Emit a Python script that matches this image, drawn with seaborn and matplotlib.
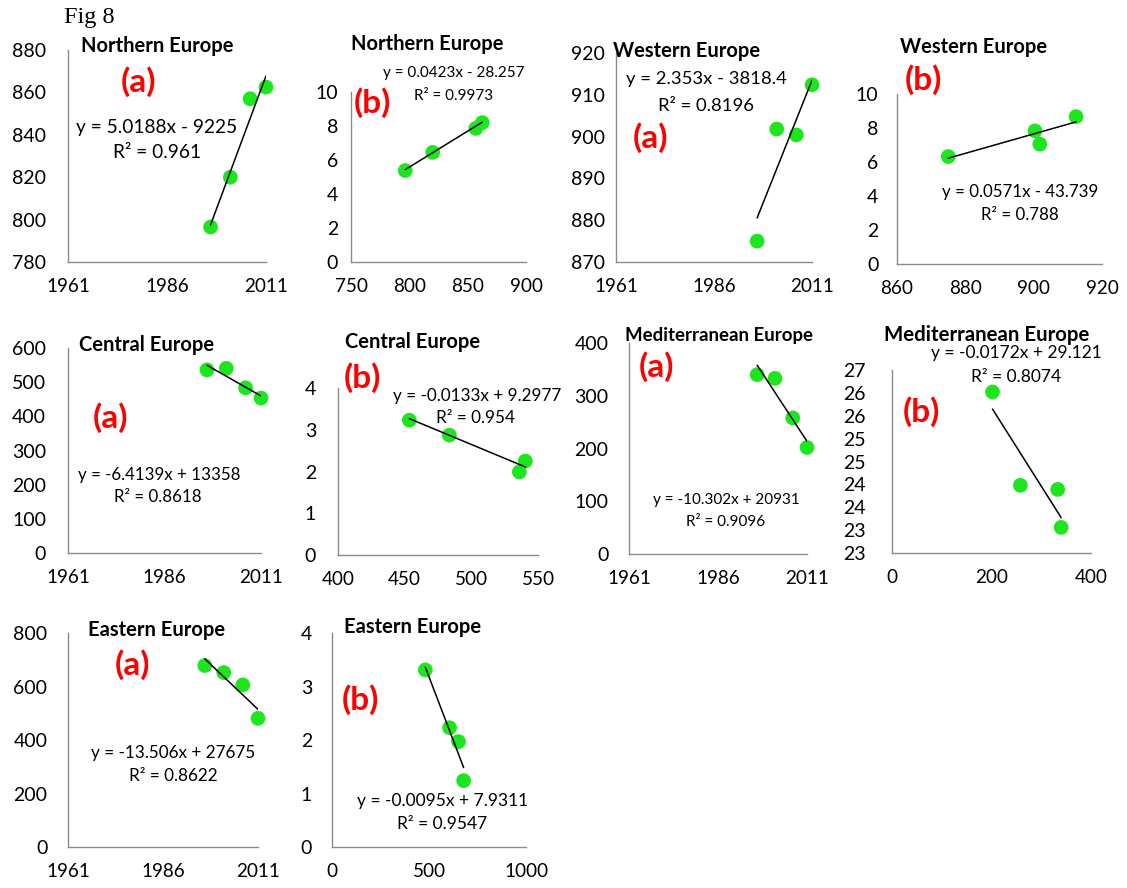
import matplotlib
matplotlib.use("Agg")
import matplotlib.pyplot as plt
import pandas as pd
import seaborn as sns

# ---- data -----------------------------------------------------------------
years = [1997, 2002, 2007, 2011]

north_a = [796.5, 820.0, 857.0, 862.5]
north_b = [5.38, 6.45, 7.86, 8.20]
west_a = [875.0, 901.8, 900.4, 912.4]
west_b = [6.32, 7.05, 7.83, 8.67]
central_a = [536.0, 540.5, 483.5, 453.5]
central_b = [1.99, 2.25, 2.87, 3.23]
med_a = [340.0, 333.0, 258.0, 202.0]
med_b = [23.06, 23.89, 23.98, 26.02]
east_a = [678.5, 652.0, 606.0, 481.0]
east_b = [1.24, 1.97, 2.23, 3.31]

# linear trend coefficients (slope, intercept, R^2)
north_a_fit = (5.0188, -9225, 0.961)
north_b_fit = (0.0423, -28.257, 0.9973)
west_a_fit = (2.353, -3818.4, 0.8196)
west_b_fit = (0.0571, -43.739, 0.788)
central_a_fit = (-6.4139, 13358, 0.8618)
central_b_fit = (-0.0133, 9.2977, 0.954)
med_a_fit = (-10.302, 20931, 0.9096)
med_b_fit = (-0.0172, 29.121, 0.8074)
east_a_fit = (-13.506, 27675, 0.8622)
east_b_fit = (-0.0095, 7.9311, 0.9547)

# ---- tick values ------------------------------------------------------------
year_ticks = [1961, 1986, 2011]
north_a_yticks = [780, 800, 820, 840, 860, 880]
ten_ticks = [0, 2, 4, 6, 8, 10]
north_b_xticks = [750, 800, 850, 900]
west_a_yticks = [870, 880, 890, 900, 910, 920]
west_b_xticks = [860, 880, 900, 920]
central_a_yticks = [0, 100, 200, 300, 400, 500, 600]
four_ticks = [0, 1, 2, 3, 4]
central_b_xticks = [400, 450, 500, 550]
med_a_yticks = [0, 100, 200, 300, 400]
med_b_xticks = [0, 200, 400]
med_b_yticks = [22.5, 23.0, 23.5, 24.0, 24.5, 25.0, 25.5, 26.0, 26.5]
med_b_ylabels = ["23", "23", "24", "24", "25", "25", "26", "26", "27"]
east_a_yticks = [0, 200, 400, 600, 800]
east_b_xticks = [0, 500, 1000]

# ---- styling --------------------------------------------------------------
sns.set_style("white")
plt.rcParams["font.family"] = ["Lato", "DejaVu Sans"]

W, H = 1127, 888
AXIS_GREY = "#8a8a8a"
POINT_GREEN = "#1ee61e"
TAG_RED = "#ff0000"

fig = plt.figure(figsize=(W / 100, H / 100), dpi=100)
fig.patch.set_facecolor("white")


def fx(x):
    return x / W


def fy(y):
    return 1 - y / H


def eq_text(fit):
    m, c, _ = fit
    sign = "+" if c >= 0 else "-"
    return f"y = {m:g}x {sign} {abs(c):g}"


def r2_text(fit):
    return f"R\u00b2 = {fit[2]:g}"


panels = [
    dict(x=years, y=north_a, fit=north_a_fit, title="Northern Europe", tag="(a)",
         box=(68, 50, 266, 262), xlim=(1961, 2011), xticks=year_ticks,
         ylim=(780, 880), yticks=north_a_yticks, ypad=11,
         title_xy=(157, 46), tag_xy=(138, 82), eq_xy=(157, 127), r2_xy=(157, 153),
         eq_size=13.8, title_size=14.5),
    dict(x=north_a, y=north_b, fit=north_b_fit, title="Northern Europe", tag="(b)",
         box=(351, 92, 526, 262), xlim=(750, 900), xticks=north_b_xticks,
         ylim=(0, 10), yticks=ten_ticks, ypad=4.5,
         title_xy=(427, 44), tag_xy=(372, 103), eq_xy=(454, 73), r2_xy=(454, 96),
         eq_size=11, title_size=14.5),
    dict(x=years, y=west_a, fit=west_a_fit, title="Western Europe", tag="(a)",
         box=(616, 53, 812, 262), xlim=(1961, 2011), xticks=year_ticks,
         ylim=(870, 920), yticks=west_a_yticks, ypad=3,
         title_xy=(687, 51), tag_xy=(651, 138), eq_xy=(706, 79), r2_xy=(706, 106),
         eq_size=13.3, title_size=14.5),
    dict(x=west_a, y=west_b, fit=west_b_fit, title="Western Europe", tag="(b)",
         box=(897, 94, 1102, 264), xlim=(860, 920), xticks=west_b_xticks,
         ylim=(0, 10), yticks=ten_ticks, ypad=8.5,
         title_xy=(974, 47), tag_xy=(923, 80), eq_xy=(1020, 192), r2_xy=(1020, 215),
         eq_size=12.2, title_size=14.5),
    dict(x=years, y=central_a, fit=central_a_fit, title="Central Europe", tag="(a)",
         box=(68, 348, 261, 553), xlim=(1961, 2011), xticks=year_ticks,
         ylim=(0, 600), yticks=central_a_yticks, ypad=11,
         title_xy=(147, 345), tag_xy=(110, 418), eq_xy=(159, 475), r2_xy=(158, 497),
         eq_size=12.2, title_size=14.5),
    dict(x=central_a, y=central_b, fit=central_b_fit, title="Central Europe", tag="(b)",
         box=(338, 388, 538, 555), xlim=(400, 550), xticks=central_b_xticks,
         ylim=(0, 4), yticks=four_ticks, ypad=11,
         title_xy=(413, 342), tag_xy=(362, 378), eq_xy=(477, 396), r2_xy=(476, 418),
         eq_size=12.3, title_size=14.5),
    dict(x=years, y=med_a, fit=med_a_fit, title="Mediterranean Europe", tag="(a)",
         box=(629, 343, 807, 554), xlim=(1961, 2011), xticks=year_ticks,
         ylim=(0, 400), yticks=med_a_yticks, ypad=10,
         title_xy=(719, 335), tag_xy=(656, 367), eq_xy=(726, 500), r2_xy=(726, 522),
         eq_size=11, title_size=13.4),
    dict(x=med_a, y=med_b, fit=med_b_fit, title="Mediterranean Europe", tag="(b)",
         box=(892, 370, 1091, 553), xlim=(0, 400), xticks=med_b_xticks,
         ylim=(22.5, 26.5), yticks=med_b_yticks, ylabels=med_b_ylabels, ypad=14,
         title_xy=(987, 335), tag_xy=(921, 412), eq_xy=(1016, 353), r2_xy=(1016, 377),
         eq_size=12.5, title_size=14.7),
    dict(x=years, y=east_a, fit=east_a_fit, title="Eastern Europe", tag="(a)",
         box=(68, 633, 258, 847), xlim=(1961, 2011), xticks=year_ticks,
         ylim=(0, 800), yticks=east_a_yticks, ypad=10,
         title_xy=(157, 630), tag_xy=(132, 665), eq_xy=(173, 753), r2_xy=(173, 776),
         eq_size=12.3, title_size=14.5),
    dict(x=east_a, y=east_b, fit=east_b_fit, title="Eastern Europe", tag="(b)",
         box=(332, 633, 526, 847), xlim=(0, 1000), xticks=east_b_xticks,
         ylim=(0, 4), yticks=four_ticks, ypad=9.5,
         title_xy=(413, 627), tag_xy=(360, 700), eq_xy=(443, 801), r2_xy=(442, 824),
         eq_size=12.5, title_size=14.5),
]

for p in panels:
    left, top, right, bottom = p["box"]
    ax = fig.add_axes([fx(left), fy(bottom), (right - left) / W, (bottom - top) / H])
    ax.set_facecolor("white")

    pts = pd.DataFrame({"x": p["x"], "y": p["y"]})
    m, c, _ = p["fit"]
    x0, x1 = min(p["x"]), max(p["x"])
    trend = pd.DataFrame({"x": [x0, x1], "y": [m * x0 + c, m * x1 + c]})

    sns.scatterplot(data=pts, x="x", y="y", ax=ax, s=112, color=POINT_GREEN,
                    edgecolor="none", linewidth=0, zorder=3, clip_on=False)
    sns.lineplot(data=trend, x="x", y="y", ax=ax, color="black", linewidth=1.1,
                 zorder=4, estimator=None, sort=False)

    ax.set_xlim(*p["xlim"])
    ax.set_ylim(*p["ylim"])
    ax.set_xticks(p["xticks"])
    ax.set_yticks(p["yticks"])
    if "ylabels" in p:
        ax.set_yticklabels(p["ylabels"])
    ax.set_xlabel("")
    ax.set_ylabel("")

    for side in ("top", "right"):
        ax.spines[side].set_visible(False)
    for side in ("left", "bottom"):
        ax.spines[side].set_color(AXIS_GREY)
        ax.spines[side].set_linewidth(1.0)
    ax.tick_params(axis="both", direction="out", length=4.8, width=1.0,
                   color=AXIS_GREY, labelcolor="black")
    ax.tick_params(axis="y", pad=p["ypad"], labelsize=14)
    ax.tick_params(axis="x", pad=7.0, labelsize=13.6)

    fig.text(fx(p["title_xy"][0]), fy(p["title_xy"][1]), p["title"], ha="center",
             va="center", fontsize=p["title_size"], fontweight="bold", color="black")
    fig.text(fx(p["tag_xy"][0]), fy(p["tag_xy"][1]), p["tag"], ha="center",
             va="center", fontsize=24, fontweight="bold", color=TAG_RED)
    fig.text(fx(p["eq_xy"][0]), fy(p["eq_xy"][1]), eq_text(p["fit"]), ha="center",
             va="center", fontsize=p["eq_size"], color="black")
    fig.text(fx(p["r2_xy"][0]), fy(p["r2_xy"][1]), r2_text(p["fit"]), ha="center",
             va="center", fontsize=p["eq_size"], color="black")

fig.text(fx(89), fy(17), "Fig 8", ha="center", va="center", fontsize=17.5,
         family=["Liberation Serif", "DejaVu Serif"], color="black")

fig.savefig("out.png", dpi=100, facecolor="white")
